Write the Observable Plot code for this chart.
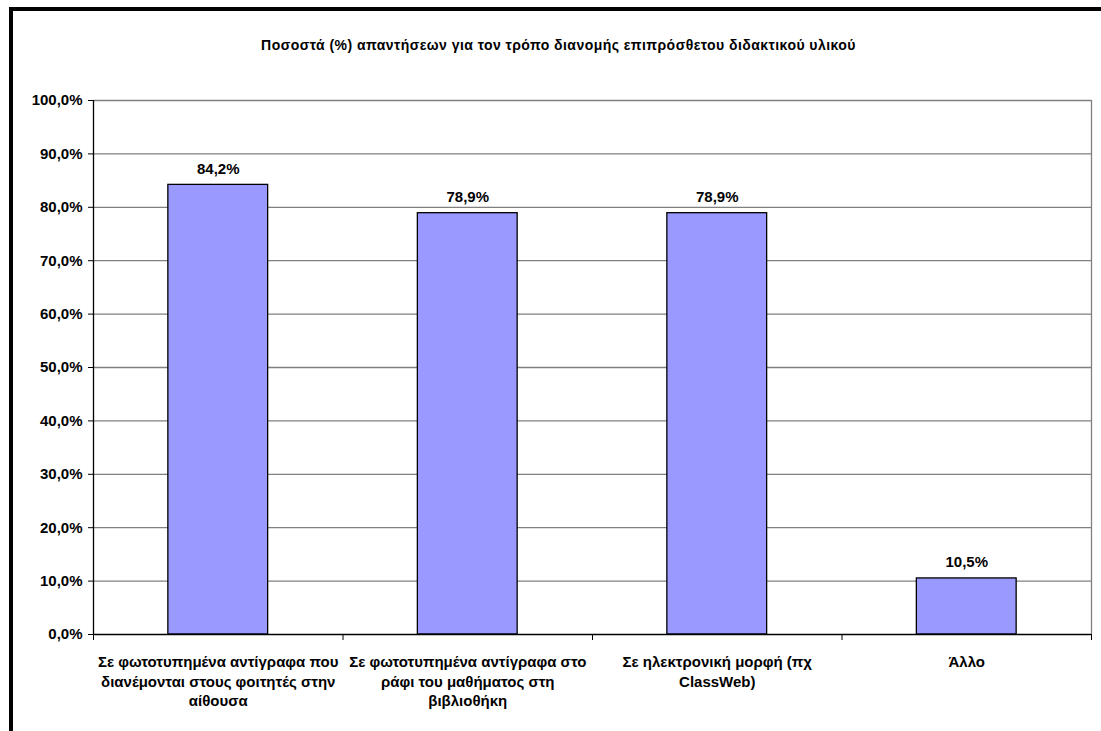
<!DOCTYPE html>
<html>
<head>
<meta charset="utf-8">
<script src="https://cdn.jsdelivr.net/npm/d3@7"></script>
<script src="https://cdn.jsdelivr.net/npm/@observablehq/plot@0.6"></script>
<style>
  html, body { margin: 0; padding: 0; background: #fff; overflow: hidden; }
  #wrap { position: relative; width: 1101px; height: 731px; overflow: hidden; font-family: "Liberation Sans", Arial, sans-serif; background: #fff; }
  #border { position: absolute; left: 9px; top: 7px; width: 1200px; height: 900px; border: 4px solid #000; box-sizing: border-box; z-index: 5; pointer-events: none; }
  #title { position: absolute; top: 37px; left: 8px; width: 1101px; text-align: center; font-size: 14px; letter-spacing: 0.45px; font-weight: bold; color: #000; z-index: 3; }
  #chart { position: absolute; left: 0; top: 0; z-index: 1; }
</style>
</head>
<body>
<div id="wrap">
  <div id="chart"></div>
  <div id="title">Ποσοστά (%) απαντήσεων για τον τρόπο διανομής επιπρόσθετου διδακτικού υλικού</div>
  <div id="border"></div>
</div>
<script>
const categories = [
  "Σε φωτοτυπημένα αντίγραφα που διανέμονται στους φοιτητές στην αίθουσα",
  "Σε φωτοτυπημένα αντίγραφα στο ράφι του μαθήματος στη βιβλιοθήκη",
  "Σε ηλεκτρονική μορφή (πχ ClassWeb)",
  "Άλλο"
];
const categoryLabelLines = [
  "Σε φωτοτυπημένα αντίγραφα που\nδιανέμονται στους φοιτητές στην\nαίθουσα",
  "Σε φωτοτυπημένα αντίγραφα στο\nράφι του μαθήματος στη\nβιβλιοθήκη",
  "Σε ηλεκτρονική μορφή (πχ\nClassWeb)",
  "Άλλο"
];
const values = [84.2, 78.9, 78.9, 10.5];
const yTicks = [0, 10, 20, 30, 40, 50, 60, 70, 80, 90, 100];

const fmt = d => d.toFixed(1).replace(".", ",") + "%";
const data = categories.map((c, i) => ({i, category: c, value: values[i]}));
const n = categories.length;
const boundaries = d3.range(n + 1);
const centers = d3.range(n).map(i => i + 0.5);

const chart = Plot.plot({
  width: 1101,
  height: 731,
  marginLeft: 93,
  marginRight: 10,
  marginTop: 100,
  marginBottom: 97,
  x: {domain: [0, n]},
  y: {domain: [0, 100]},
  style: {fontFamily: "'Liberation Sans', Arial, sans-serif", fontWeight: "bold", fontSize: "15px", background: "transparent", color: "#000"},
  marks: [
    Plot.ruleY(yTicks.filter(t => t > 0), {stroke: "#808080", strokeWidth: 1.3}),
    Plot.ruleX([n], {stroke: "#808080", strokeWidth: 1.3}),
    Plot.rectY(data, {x1: d => d.i + 0.3, x2: d => d.i + 0.7, y1: 0, y2: "value", fill: "#9999FF", stroke: "#000", strokeWidth: 1.3}),
    Plot.text(data, {x: d => d.i + 0.5, y: "value", text: d => fmt(d.value), dy: -16, fill: "#000", fontSize: 15, fontWeight: "bold"}),
    Plot.ruleY([0], {stroke: "#000", strokeWidth: 1.3}),
    Plot.ruleX([0], {stroke: "#000", strokeWidth: 1.3}),
    Plot.axisY({ticks: yTicks, tickFormat: fmt, tickSize: 5, tickPadding: 6, label: null, fontSize: 15}),
    Plot.axisX({ticks: boundaries, tickFormat: () => "", tickSize: 6, label: null}),
    Plot.axisX({ticks: centers, tickFormat: t => categoryLabelLines[Math.floor(t)], tickSize: 0, tickPadding: 19, lineHeight: 1.3, label: null, fontSize: 15})
  ]
});
document.getElementById("chart").appendChild(chart);
</script>
</body>
</html>
